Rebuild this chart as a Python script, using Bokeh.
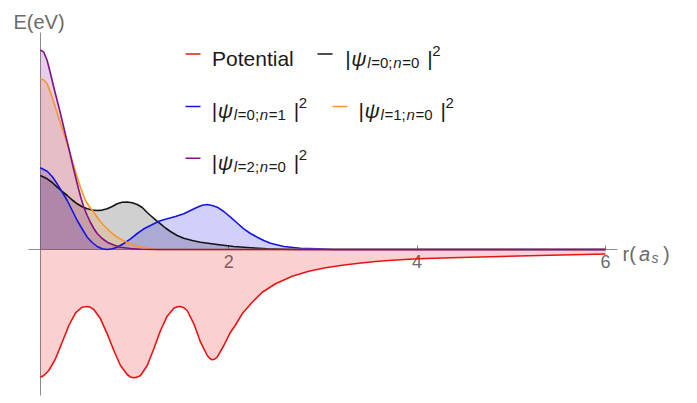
from bokeh.plotting import figure
from bokeh.models import Range1d, FixedTicker, Label
from bokeh.embed import file_html
from bokeh.resources import INLINE

# ---------------- data ----------------
r_pot = [0.000, 0.037, 0.090, 0.161, 0.232, 0.303, 0.374, 0.445, 0.498, 0.533,
         0.568, 0.639, 0.710, 0.780, 0.851, 0.922, 0.957, 0.993, 1.029, 1.064,
         1.135, 1.205, 1.276, 1.347, 1.417, 1.452, 1.488, 1.524, 1.559, 1.630,
         1.701, 1.772, 1.800, 1.825, 1.850, 1.878, 1.948, 2.019, 2.072, 2.143,
         2.249, 2.356, 2.497, 2.674, 2.850, 3.028, 3.205, 3.381, 3.558, 3.736,
         3.912, 4.089, 4.355, 4.885, 5.416, 6.000]
v_pot = [-1.277, -1.26, -1.21, -1.093, -0.927, -0.76, -0.633, -0.577, -0.57, -0.578,
         -0.60, -0.693, -0.843, -1.01, -1.16, -1.25, -1.275, -1.283, -1.276, -1.26,
         -1.16, -0.993, -0.81, -0.667, -0.587, -0.573, -0.57, -0.583, -0.61, -0.743,
         -0.927, -1.06, -1.09, -1.103, -1.097, -1.077, -0.96, -0.827, -0.755, -0.643,
         -0.527, -0.427, -0.343, -0.267, -0.217, -0.183, -0.157, -0.137, -0.12, -0.107,
         -0.097, -0.09, -0.083, -0.07, -0.058, -0.045]

r_l0n0 = [0, 0.073, 0.126, 0.179, 0.232, 0.286, 0.339, 0.392, 0.445, 0.498,
          0.551, 0.604, 0.657, 0.710, 0.763, 0.816, 0.869, 0.922, 0.976, 1.029,
          1.082, 1.135, 1.170, 1.223, 1.276, 1.329, 1.382, 1.453, 1.523, 1.613,
          1.701, 1.878, 2.054, 2.231, 2.409, 2.585, 2.76, 6.0]
v_l0n0 = [0.74, 0.707, 0.67, 0.623, 0.58, 0.54, 0.495, 0.457, 0.427, 0.407,
          0.394, 0.39, 0.394, 0.407, 0.43, 0.457, 0.472, 0.475, 0.467, 0.45,
          0.42, 0.37, 0.34, 0.297, 0.257, 0.215, 0.18, 0.14, 0.113, 0.09,
          0.073, 0.05, 0.03, 0.017, 0.007, 0.003, 0, 0]

r_l0n1 = [0, 0.073, 0.126, 0.179, 0.232, 0.286, 0.339, 0.392, 0.445, 0.498,
          0.551, 0.604, 0.657, 0.710, 0.763, 0.816, 0.886, 0.958, 1.029, 1.099,
          1.170, 1.258, 1.347, 1.435, 1.523, 1.594, 1.666, 1.719, 1.772, 1.825,
          1.878, 1.948, 2.019, 2.090, 2.160, 2.231, 2.303, 2.373, 2.444, 2.585,
          2.762, 2.940, 3.11, 6.0]
v_l0n1 = [0.817, 0.783, 0.73, 0.657, 0.575, 0.49, 0.39, 0.29, 0.205, 0.123,
          0.07, 0.03, 0.007, 0.0, 0.007, 0.023, 0.06, 0.107, 0.16, 0.207,
          0.24, 0.283, 0.307, 0.33, 0.357, 0.39, 0.423, 0.443, 0.45, 0.44,
          0.423, 0.38, 0.323, 0.265, 0.207, 0.16, 0.123, 0.09, 0.063, 0.03,
          0.013, 0.007, 0, 0]

r_l1n0 = [0, 0.037, 0.073, 0.108, 0.143, 0.179, 0.214, 0.257, 0.303, 0.347,
          0.392, 0.427, 0.480, 0.527, 0.568, 0.621, 0.674, 0.745, 0.816, 0.887,
          0.958, 1.047, 1.135, 1.223, 6.0]
v_l1n0 = [1.707, 1.695, 1.657, 1.57, 1.473, 1.365, 1.26, 1.14, 1.01, 0.86,
          0.723, 0.62, 0.49, 0.42, 0.373, 0.30, 0.24, 0.175, 0.123, 0.085,
          0.057, 0.03, 0.013, 0, 0]

r_l2n0 = [0, 0.037, 0.073, 0.108, 0.143, 0.179, 0.214, 0.257, 0.303, 0.347,
          0.392, 0.427, 0.462, 0.498, 0.533, 0.568, 0.604, 0.657, 0.710, 0.780,
          0.851, 0.958, 1.064, 1.276, 6.0]
v_l2n0 = [1.997, 1.973, 1.89, 1.76, 1.623, 1.49, 1.36, 1.19, 1.01, 0.83,
          0.657, 0.53, 0.423, 0.34, 0.27, 0.21, 0.16, 0.11, 0.073, 0.045,
          0.023, 0.01, 0.003, 0, 0]

x_ticks = [2, 4, 6]

# ---------------- layout constants ----------------
OFF = 0                  # page offset of the canvas (measured)
W, H = 681, 396          # canvas size
X0, SX = 39.8, 94.2      # page pixel of r=0, pixels per unit
Y0, SY = 249.0, 100.0    # page pixel of E=0, pixels per unit


def dx(px):
    return (px - X0) / SX


def dy(py):
    return (Y0 - py) / SY


FONT = "Liberation Sans"
RED, BLACK, BLUE, ORANGE, PURPLE = "#e81414", "#141414", "#1414e6", "#ff9526", "#83108a"
AXIS = "#8c8c8c"
TXT = "#1a1a1a"
GREY_TXT = "#6b6b6b"

p = figure(width=W, height=H,
           min_border_left=0, min_border_right=0, min_border_top=0, min_border_bottom=0,
           x_range=Range1d(dx(OFF), dx(OFF + W)), y_range=Range1d(dy(OFF + H), dy(OFF)),
           output_backend="svg", toolbar_location=None,
           background_fill_color="white", border_fill_color="white")
p.outline_line_color = None
p.grid.visible = False

# axes crossing at origin
xa = p.xaxis[0]
xa.fixed_location = 0
xa.bounds = (dx(27.7), dx(617))
xa.ticker = FixedTicker(ticks=x_ticks)
xa.major_tick_in = 4
xa.major_tick_out = 0
xa.minor_tick_line_color = None
xa.axis_line_color = AXIS
xa.major_tick_line_color = AXIS
xa.major_label_text_font = FONT
xa.major_label_text_font_size = "18px"
xa.major_label_text_color = GREY_TXT
xa.major_label_standoff = 5
xa.level = "underlay"

ya = p.yaxis[0]
ya.fixed_location = 0
ya.bounds = (dy(395), dy(32))
ya.ticker = FixedTicker(ticks=[])
ya.major_tick_line_color = None
ya.minor_tick_line_color = None
ya.axis_line_color = AXIS
ya.major_label_text_font_size = "0px"
ya.level = "underlay"

series = [
    (r_pot, v_pot, RED),
    (r_l0n0, v_l0n0, BLACK),
    (r_l0n1, v_l0n1, BLUE),
    (r_l1n0, v_l1n0, ORANGE),
    (r_l2n0, v_l2n0, PURPLE),
]
for r, v, c in series:
    p.varea(x=r, y1=[0] * len(r), y2=v, fill_color=c, fill_alpha=0.2)
for r, v, c in series:
    p.line(x=r, y=v, line_color=c, line_width=1.6, line_join="round")


# ---------------- text helpers ----------------
def put(text, px, py, size, color=TXT, style="normal"):
    p.add_layout(Label(x=dx(px), y=dy(py), text=text, text_font=FONT,
                       text_font_size=f"{size}px", text_font_style=style,
                       text_color=color, text_baseline="alphabetic", text_align="left"))


def psi_label(xbar, base, l, n):
    put("|", xbar - 2, base, 21)
    put("\u03c8", xbar + 4, base, 21, style="italic")
    put("l", xbar + 20, base + 4, 15, style="italic")
    put("=" + l + ";", xbar + 24, base + 4, 15)
    put("n", xbar + 46, base + 4, 15, style="italic")
    put("=" + n, xbar + 55, base + 4, 15)
    put("|", xbar + 80, base, 21)
    put("2", xbar + 85, base - 7.5, 15)


def marker(px0, py, color):
    p.segment(x0=[dx(px0)], y0=[dy(py)], x1=[dx(px0 + 15)], y1=[dy(py)],
              line_color=color, line_width=1.6)


rows = [57.5, 110.0, 161.7]

# legend
marker(185, rows[0] - 4, RED)
put("Potential", 211.5, rows[0], 21)
marker(317, rows[0] - 4, BLACK)
psi_label(346.7, rows[0], "0", "0")

marker(185, rows[1] - 4, BLUE)
psi_label(213.3, rows[1], "0", "1")
marker(332, rows[1] - 4, ORANGE)
psi_label(360, rows[1], "1", "0")

marker(185, rows[2] - 4, PURPLE)
psi_label(213.3, rows[2], "2", "0")

# axis titles
put("E(eV)", 13, 21, 20, color=GREY_TXT)
put("r(", 622, 253.5, 20, color=GREY_TXT)
put("a", 638.5, 253.5, 20, color=GREY_TXT, style="italic")
put("s", 651, 257.5, 14, color=GREY_TXT, style="italic")
put(")", 662.5, 253.5, 20, color=GREY_TXT)

open("out.html", "w").write(file_html(p, INLINE))
